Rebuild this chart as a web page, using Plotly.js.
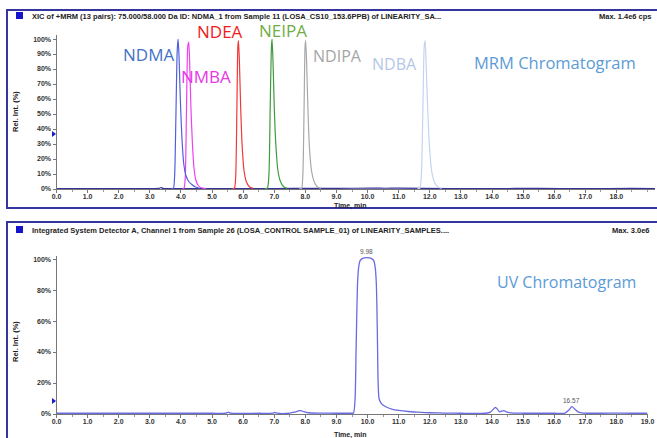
<!DOCTYPE html>
<html>
<head>
<meta charset="utf-8">
<script src="https://cdn.plot.ly/plotly-3.0.1.min.js"></script>
<style>html,body{margin:0;padding:0;background:#fff;}#chart{width:657px;height:438px;}</style>
</head>
<body>
<div id="chart"></div>
<script>
// ---------- DATA ----------
// MRM chromatogram (top panel): retention time (min) and relative intensity (%)
var baseTime = [0, 1.0, 2.0, 3.0, 3.3, 3.36, 3.42, 4.8, 6.5, 7.6, 9.0, 10.2, 10.6, 11.0, 12.6, 14.0, 15.5, 17.0, 18.5, 19.24];
var baseInt  = [0.3, 0.3, 0.2, 0.3, 0.4, 1.0, 0.4, 0.3, 0.3, 0.4, 0.4, 0.6, 0.5, 0.6, 0.3, 0.3, 0.4, 0.3, 0.4, 0.3];

var ndmaTime = [3.70, 3.76, 3.80, 3.84, 3.88, 3.91, 3.94, 3.98, 4.03, 4.09, 4.16, 4.25, 4.35, 4.45, 4.60];
var ndmaInt  = [0.3, 0.6, 10, 50, 92, 100, 88, 60, 35, 17, 9, 5, 3, 1.5, 0.5];

var nmbaTime = [4.05, 4.10, 4.14, 4.18, 4.22, 4.25, 4.28, 4.32, 4.37, 4.42, 4.48, 4.55, 4.65, 4.80];
var nmbaInt  = [0.3, 0.6, 8, 55, 95, 98, 85, 55, 30, 14, 6, 2.5, 0.8, 0.3];

var ndeaTime = [5.65, 5.72, 5.76, 5.80, 5.83, 5.85, 5.88, 5.92, 5.97, 6.03, 6.10, 6.20, 6.32];
var ndeaInt  = [0.3, 0.5, 8, 55, 95, 99, 85, 55, 28, 12, 5, 1.5, 0.4];

var neipaTime = [6.70, 6.78, 6.83, 6.87, 6.91, 6.93, 6.96, 7.00, 7.05, 7.12, 7.20, 7.30, 7.42];
var neipaInt  = [0.3, 0.5, 10, 55, 95, 100, 85, 55, 30, 12, 5, 1.5, 0.4];

var ndipaTime = [7.80, 7.88, 7.92, 7.96, 7.99, 8.01, 8.04, 8.08, 8.13, 8.20, 8.28, 8.38, 8.50];
var ndipaInt  = [0.3, 0.5, 10, 55, 95, 99, 85, 55, 28, 12, 5, 1.5, 0.4];

var ndbaTime = [11.60, 11.68, 11.73, 11.78, 11.82, 11.85, 11.88, 11.93, 11.99, 12.06, 12.14, 12.25, 12.38];
var ndbaInt  = [0.3, 0.5, 10, 55, 95, 99, 85, 55, 28, 12, 5, 1.5, 0.4];

var compoundNames = ["NDMA", "NMBA", "NDEA", "NEIPA", "NDIPA", "NDBA"];

// UV chromatogram (bottom panel)
var uvTime = [0, 1.0, 2.0, 3.0, 4.0, 5.0, 5.45, 5.52, 5.6, 6.5, 6.95, 7.02, 7.1, 7.5, 7.65, 7.78, 7.85, 7.95, 8.1, 8.5, 9.0, 9.5,
              9.55, 9.60, 9.63, 9.66, 9.68, 9.71, 9.76, 9.84, 9.98, 10.12, 10.20, 10.25, 10.28, 10.30, 10.32, 10.34, 10.37,
              10.45, 10.60, 10.80, 11.00, 11.30, 11.60, 12.00, 12.50, 13.0, 13.8, 13.95, 14.05, 14.11, 14.18, 14.24, 14.31,
              14.38, 14.46, 14.6, 15.0, 16.0, 16.35, 16.47, 16.57, 16.66, 16.78, 16.95, 17.5, 18.0, 18.5, 19.0];
var uvInt  = [0.5, 0.5, 0.5, 0.5, 0.5, 0.5, 0.5, 1.2, 0.5, 0.5, 0.5, 1.0, 0.5, 0.6, 1.2, 2.0, 2.2, 1.5, 0.8, 0.6, 0.5, 0.5,
              0.6, 10, 40, 70, 85, 94, 99, 100.5, 101, 100.5, 99, 94, 85, 70, 45, 20, 10,
              6.5, 4.5, 3.0, 2.3, 1.6, 1.2, 0.8, 0.6, 0.5, 0.5, 1.2, 3.2, 4.3, 3.0, 1.4, 1.8,
              2.2, 1.4, 0.7, 0.5, 0.5, 0.6, 2.5, 4.7, 3.2, 1.2, 0.6, 0.5, 0.6, 0.5, 0.5];
var uvPeakLabels = [9.98, 16.57];
var uvPeakHeights = [101, 4.7];

// axis ticks
var topXTicks = [0,1,2,3,4,5,6,7,8,9,10,11,12,13,14,15,16,17,18];
var botXTicks = [0,1,2,3,4,5,6,7,8,9,10,11,12,13,14,15,16,17,18,19];
var topYTicks = [0,10,20,30,40,50,60,70,80,90,100];
var botYTicks = [0,20,40,60,80,100];

// ---------- LAYOUT HELPERS (pixel -> paper) ----------
var W = 657, H = 438;
function px(x){ return x / W; }
function py(y){ return 1 - y / H; }

var tickFont = {family: 'Liberation Sans', size: 7, color: '#333', weight: 'bold'};
var lblFont = {family: 'Liberation Sans', size: 7.5, color: '#222', weight: 'bold'};
var timeFont = {family: 'Liberation Sans', size: 7, color: '#222', weight: 'bold'};

function line(x, y, color, w, ax){
  return {type: 'scatter', mode: 'lines', x: x, y: y, xaxis: ax[0], yaxis: ax[1],
          line: {color: color, width: w, shape: 'spline', smoothing: 0.6}, hoverinfo: 'skip'};
}

var T = ['x', 'y'], B = ['x2', 'y2'];
var data = [
  line(baseTime, baseInt, '#34349c', 1.2, T),
  line(ndbaTime, ndbaInt, '#c4d4ee', 1.2, T),
  line(ndipaTime, ndipaInt, '#a8a8a8', 1.2, T),
  line(neipaTime, neipaInt, '#3c9c3c', 1.2, T),
  line(ndeaTime, ndeaInt, '#f03838', 1.2, T),
  line(nmbaTime, nmbaInt, '#f040f0', 1.2, T),
  line(ndmaTime, ndmaInt, '#5060dc', 1.2, T),
  line(uvTime, uvInt, '#6a6ae2', 1.3, B)
];

function fmt(v){ return v.toFixed(1); }
function xAxis(ticks, d0, d1, rng, anchor){
  return {domain: [px(d0), px(d1)], range: rng, anchor: anchor, tickmode: 'array',
          tickvals: ticks, ticktext: ticks.map(fmt), showline: true, linecolor: '#777', linewidth: 1,
          ticks: 'outside', ticklen: 3, tickcolor: '#777', showgrid: false, zeroline: false,
          ticklabelstandoff: -2,
          tickfont: tickFont, minor: {ticks: 'outside', ticklen: 2, dtick: 0.5, tick0: 0, tickcolor: '#999'}};
}
function yAxis(ticks, yBottom, yTop, rng, anchor){
  return {domain: [py(yBottom), py(yTop)], range: rng, anchor: anchor, tickmode: 'array',
          tickvals: ticks, ticktext: ticks.map(function(v){return v + '%';}), showline: true,
          linecolor: '#777', linewidth: 1, ticks: 'outside', ticklen: 3, tickcolor: '#777',
          showgrid: false, zeroline: false, tickfont: tickFont};
}

var labelColors = ['#4472c4', '#e636e6', '#ee1c1c', '#70ad47', '#a5a5a5', '#b4c7e7'];
var labelPos = [[148, 54], [206, 76], [220, 31], [283, 30], [337, 56], [394, 64]];
var labelSize = [17, 17, 17, 17, 16, 16];

var ann = [];
compoundNames.forEach(function(n, i){
  ann.push({xref: 'paper', yref: 'paper', x: px(labelPos[i][0]), y: py(labelPos[i][1]), text: n,
            showarrow: false, xanchor: 'center', yanchor: 'middle',
            font: {family: 'Open Sans', size: labelSize[i], color: labelColors[i]}});
});
ann.push({xref:'paper', yref:'paper', x: px(555), y: py(62), text: 'MRM Chromatogram', showarrow:false,
          xanchor:'center', yanchor:'middle', font:{family:'Open Sans', size:16.5, color:'#5b9bd5'}});
ann.push({xref:'paper', yref:'paper', x: px(566), y: py(282), text: 'UV Chromatogram', showarrow:false,
          xanchor:'center', yanchor:'middle', font:{family:'Open Sans', size:16, color:'#5b9bd5'}});
// panel headers
ann.push({xref:'paper', yref:'paper', x: px(30), y: py(16), text: 'XIC of +MRM (13 pairs): 75.000/58.000 Da ID: NDMA_1 from Sample 11 (LOSA_CS10_153.6PPB) of LINEARITY_SA...',
          showarrow:false, xanchor:'left', yanchor:'middle', font: lblFont});
ann.push({xref:'paper', yref:'paper', x: px(597), y: py(16), text: 'Max. 1.4e6 cps', showarrow:false,
          xanchor:'left', yanchor:'middle', font: lblFont});
ann.push({xref:'paper', yref:'paper', x: px(30), y: py(230), text: 'Integrated System Detector A, Channel 1 from Sample 26 (LOSA_CONTROL SAMPLE_01) of LINEARITY_SAMPLES....',
          showarrow:false, xanchor:'left', yanchor:'middle', font: lblFont});
ann.push({xref:'paper', yref:'paper', x: px(652), y: py(230), text: 'Max. 3.0e6', showarrow:false,
          xanchor:'right', yanchor:'middle', font: lblFont});
// axis titles
ann.push({xref:'paper', yref:'paper', x: px(15), y: py(112), text: 'Rel. Int. (%)', textangle: -90, showarrow:false,
          xanchor:'center', yanchor:'middle', font: lblFont});
ann.push({xref:'paper', yref:'paper', x: px(15), y: py(342), text: 'Rel. Int. (%)', textangle: -90, showarrow:false,
          xanchor:'center', yanchor:'middle', font: lblFont});
ann.push({xref:'paper', yref:'paper', x: px(350), y: py(205.5), text: 'Time, min', showarrow:false,
          xanchor:'center', yanchor:'middle', font: timeFont});
ann.push({xref:'paper', yref:'paper', x: px(350), y: py(434.5), text: 'Time, min', showarrow:false,
          xanchor:'center', yanchor:'middle', font: timeFont});
// UV peak labels
uvPeakLabels.forEach(function(t, i){
  ann.push({xref:'x2', yref:'y2', x: t, y: uvPeakHeights[i], text: t.toFixed(2), showarrow:false,
            xanchor:'center', yanchor:'bottom', yshift: 1,
            font:{family:'Liberation Sans', size:6.5, color:'#555'}});
});

function tri(x, y){
  return {type:'path', xref:'paper', yref:'paper',
          path: 'M ' + px(x) + ' ' + py(y-3) + ' L ' + px(x+4) + ' ' + py(y) + ' L ' + px(x) + ' ' + py(y+3) + ' Z',
          fillcolor:'#1a1acc', line:{width:0}};
}

var shapes = [
  {type:'rect', xref:'paper', yref:'paper', x0: px(7), y0: py(10), x1: px(668), y1: py(208), line:{color:'#3535a0', width:2}},
  {type:'rect', xref:'paper', yref:'paper', x0: px(7), y0: py(222), x1: px(668), y1: py(448), line:{color:'#3535a0', width:2}},
  {type:'rect', xref:'paper', yref:'paper', x0: px(16), y0: py(12), x1: px(23), y1: py(19), fillcolor:'#1414c8', line:{width:0}},
  {type:'rect', xref:'paper', yref:'paper', x0: px(16), y0: py(226), x1: px(23), y1: py(233), fillcolor:'#1414c8', line:{width:0}},
  tri(52, 134),
  tri(52, 401)
];

var layout = {
  width: W, height: H, margin: {l:0, r:0, t:0, b:0},
  paper_bgcolor: '#fff', plot_bgcolor: '#fff', showlegend: false,
  xaxis: xAxis(topXTicks, 56.5, 655, [0, 19.24], 'y'),
  yaxis: yAxis(topYTicks, 189, 35, [0, 102.7], 'x'),
  xaxis2: xAxis(botXTicks, 56.5, 647.5, [0, 19.0], 'y2'),
  yaxis2: yAxis(botYTicks, 414, 256, [0, 102], 'x2'),
  annotations: ann,
  shapes: shapes
};

Plotly.newPlot('chart', data, layout, {displayModeBar: false, staticPlot: true});
</script>
</body>
</html>
